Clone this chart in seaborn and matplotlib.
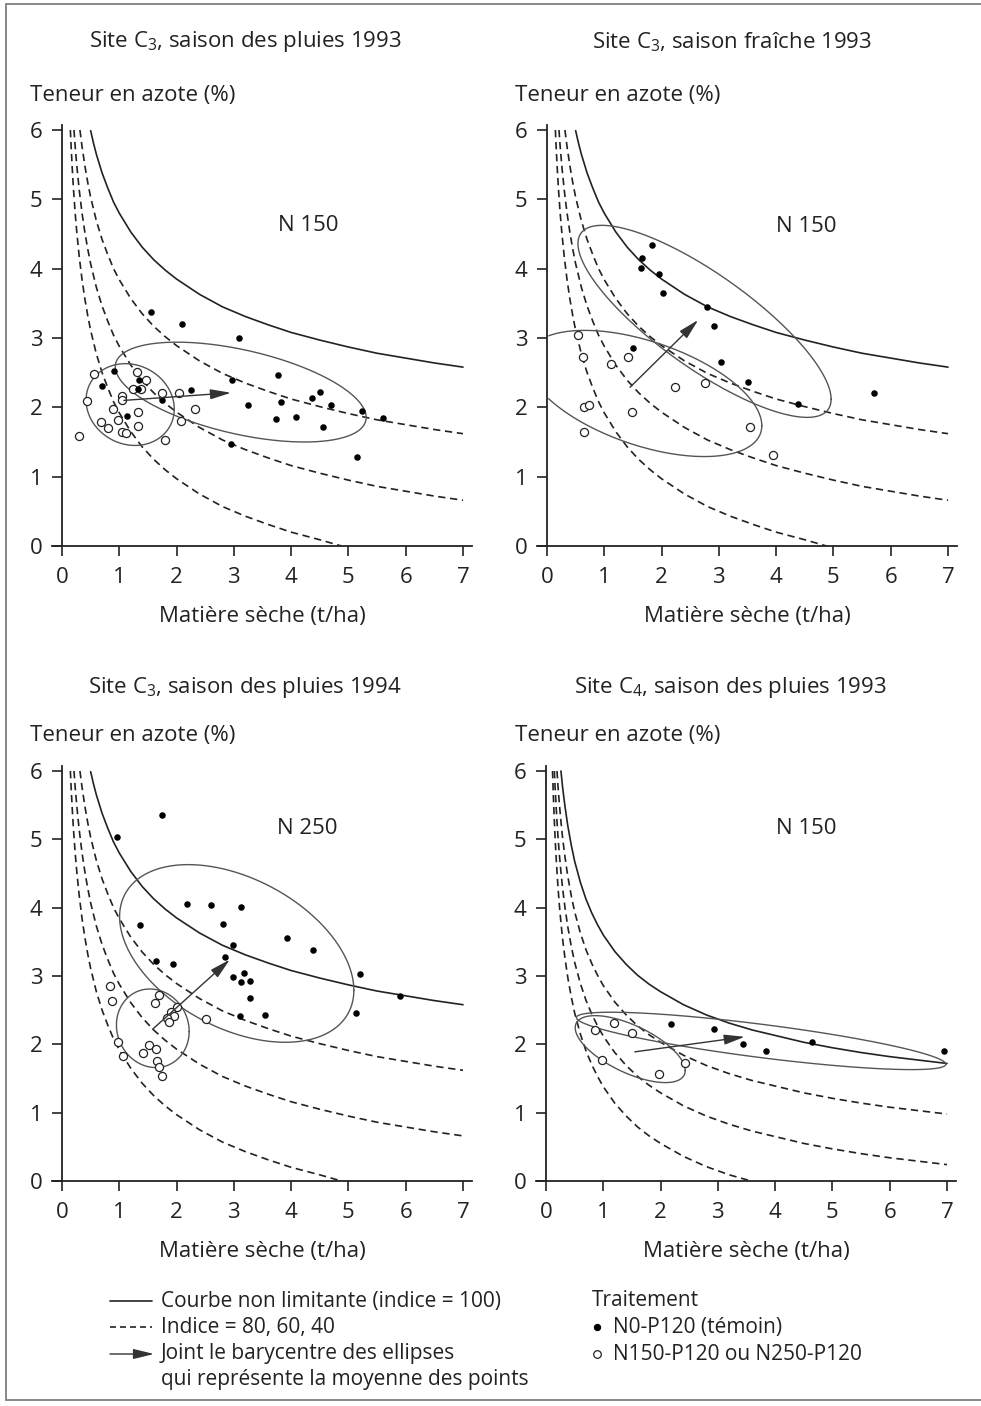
import matplotlib
matplotlib.use("Agg")
import matplotlib.pyplot as plt
import numpy as np
import pandas as pd
import seaborn as sns

# ---- data ----
# dilution curves, site C3 (panels 1-3)
c3_solid_x = [0.50, 0.55, 0.60, 0.70, 0.80, 0.90, 1.0, 1.2, 1.4, 1.6, 1.8, 2.0, 2.4, 2.8, 3.2, 3.6, 4.0, 4.5, 5.0, 5.5, 6.0, 6.5, 7.0]
c3_solid_y = [5.99, 5.81, 5.65, 5.38, 5.16, 4.96, 4.80, 4.53, 4.31, 4.13, 3.98, 3.85, 3.63, 3.45, 3.31, 3.19, 3.08, 2.97, 2.87, 2.78, 2.71, 2.64, 2.58]
c3_i80_x = [0.313, 0.35, 0.40, 0.45, 0.50, 0.60, 0.70, 0.80, 0.90, 1.0, 1.2, 1.4, 1.6, 1.8, 2.0, 2.4, 2.8, 3.2, 3.6, 4.0, 4.5, 5.0, 5.5, 6.0, 6.5, 7.0]
c3_i80_y = [6.00, 5.76, 5.48, 5.24, 5.03, 4.69, 4.42, 4.20, 4.00, 3.84, 3.57, 3.35, 3.17, 3.02, 2.89, 2.67, 2.49, 2.35, 2.23, 2.12, 2.01, 1.91, 1.82, 1.75, 1.68, 1.62]
c3_i60_x = [0.209, 0.23, 0.26, 0.30, 0.35, 0.40, 0.45, 0.50, 0.6, 0.7, 0.8, 0.9, 1.0, 1.2, 1.4, 1.6, 1.8, 2.0, 2.4, 2.8, 3.2, 3.6, 4.0, 4.5, 5.0, 5.5, 6.0, 6.5, 7.0]
c3_i60_y = [6.00, 5.76, 5.47, 5.14, 4.80, 4.52, 4.28, 4.07, 3.73, 3.46, 3.24, 3.04, 2.88, 2.61, 2.39, 2.21, 2.06, 1.93, 1.71, 1.53, 1.39, 1.27, 1.16, 1.05, 0.95, 0.86, 0.79, 0.72, 0.66]
c3_i40_x = [0.146, 0.16, 0.18, 0.20, 0.23, 0.26, 0.30, 0.35, 0.40, 0.45, 0.50, 0.6, 0.7, 0.8, 0.9, 1.0, 1.2, 1.4, 1.6, 1.8, 2.0, 2.4, 2.8, 3.2, 3.6, 4.0, 4.5, 4.88]
c3_i40_y = [6.00, 5.75, 5.43, 5.15, 4.80, 4.51, 4.18, 3.84, 3.56, 3.32, 3.11, 2.77, 2.50, 2.28, 2.08, 1.92, 1.65, 1.43, 1.25, 1.10, 0.97, 0.75, 0.57, 0.43, 0.31, 0.20, 0.09, 0.0]

# dilution curves, site C4 (panel 4)
c4_solid_x = [0.261, 0.29, 0.33, 0.38, 0.44, 0.50, 0.6, 0.7, 0.8, 0.9, 1.0, 1.2, 1.4, 1.6, 1.8, 2.0, 2.4, 2.8, 3.2, 3.6, 4.0, 4.5, 5.0, 5.5, 6.0, 6.5, 7.0]
c4_solid_y = [6.00, 5.76, 5.49, 5.20, 4.92, 4.68, 4.37, 4.12, 3.92, 3.75, 3.60, 3.36, 3.17, 3.01, 2.88, 2.77, 2.58, 2.43, 2.31, 2.21, 2.13, 2.03, 1.95, 1.88, 1.82, 1.77, 1.72]
c4_i80_x = [0.192, 0.21, 0.235, 0.261, 0.29, 0.33, 0.38, 0.44, 0.50, 0.6, 0.7, 0.8, 0.9, 1.0, 1.2, 1.4, 1.6, 1.8, 2.0, 2.4, 2.8, 3.2, 3.6, 4.0, 4.5, 5.0, 5.5, 6.0, 6.5, 7.0]
c4_i80_y = [6.00, 5.77, 5.50, 5.26, 5.02, 4.75, 4.46, 4.18, 3.94, 3.63, 3.38, 3.18, 3.01, 2.86, 2.62, 2.43, 2.27, 2.14, 2.03, 1.84, 1.69, 1.57, 1.47, 1.39, 1.29, 1.21, 1.14, 1.08, 1.03, 0.98]
c4_i60_x = [0.146, 0.16, 0.18, 0.21, 0.235, 0.261, 0.29, 0.33, 0.38, 0.44, 0.50, 0.6, 0.7, 0.8, 0.9, 1.0, 1.2, 1.4, 1.6, 1.8, 2.0, 2.4, 2.8, 3.2, 3.6, 4.0, 4.5, 5.0, 5.5, 6.0, 6.5, 7.0]
c4_i60_y = [6.00, 5.74, 5.43, 5.03, 4.76, 4.52, 4.28, 4.01, 3.72, 3.44, 3.20, 2.89, 2.64, 2.44, 2.27, 2.12, 1.88, 1.69, 1.53, 1.40, 1.29, 1.10, 0.95, 0.83, 0.73, 0.65, 0.55, 0.47, 0.40, 0.34, 0.29, 0.24]
c4_i40_x = [0.114, 0.125, 0.14, 0.16, 0.18, 0.21, 0.235, 0.261, 0.29, 0.33, 0.38, 0.44, 0.50, 0.6, 0.7, 0.8, 0.9, 1.0, 1.2, 1.4, 1.6, 1.8, 2.0, 2.4, 2.8, 3.2, 3.58]
c4_i40_y = [6.00, 5.71, 5.38, 5.00, 4.69, 4.29, 4.02, 3.78, 3.54, 3.27, 2.98, 2.70, 2.46, 2.15, 1.90, 1.70, 1.53, 1.38, 1.14, 0.95, 0.79, 0.66, 0.55, 0.36, 0.21, 0.09, 0.0]

# panel 1 : site C3, saison des pluies 1993
p1_temoin_x = [1.55, 2.09, 3.09, 0.91, 0.70, 1.35, 1.32, 1.13, 1.74, 2.25, 2.96, 3.77, 3.24, 3.82, 3.73, 4.08, 4.36, 4.50, 4.70, 4.56, 5.23, 5.61, 2.95, 5.15]
p1_temoin_y = [3.38, 3.20, 3.00, 2.53, 2.31, 2.40, 2.27, 1.88, 2.11, 2.25, 2.40, 2.47, 2.03, 2.07, 1.83, 1.86, 2.14, 2.22, 2.04, 1.71, 1.95, 1.84, 1.47, 1.29]
p1_ferti_x = [0.55, 0.44, 0.29, 1.05, 1.05, 0.89, 1.31, 1.47, 1.24, 1.38, 1.75, 2.05, 2.33, 2.08, 1.80, 1.33, 0.97, 0.68, 0.81, 1.32, 1.05, 1.11]
p1_ferti_y = [2.48, 2.09, 1.59, 2.17, 2.10, 1.98, 2.51, 2.40, 2.27, 2.26, 2.20, 2.21, 1.98, 1.80, 1.53, 1.93, 1.82, 1.79, 1.70, 1.73, 1.65, 1.63]

# panel 2 : site C3, saison fraiche 1993
p2_temoin_x = [1.66, 1.83, 1.64, 1.95, 2.02, 2.79, 2.91, 1.50, 3.04, 3.51, 4.39, 5.70]
p2_temoin_y = [4.16, 4.34, 4.01, 3.93, 3.65, 3.45, 3.17, 2.85, 2.65, 2.37, 2.05, 2.20]
p2_ferti_x = [0.54, 0.63, 1.12, 1.41, 0.65, 0.73, 0.64, 1.48, 2.24, 2.75, 3.55, 3.94]
p2_ferti_y = [3.04, 2.73, 2.63, 2.72, 2.00, 2.03, 1.65, 1.93, 2.29, 2.35, 1.72, 1.31]

# panel 3 : site C3, saison des pluies 1994
p3_temoin_x = [0.96, 1.75, 1.36, 2.19, 2.60, 3.13, 2.81, 2.99, 2.85, 1.64, 1.94, 3.93, 4.39, 2.98, 3.17, 3.13, 3.28, 3.28, 3.10, 3.54, 5.21, 5.14, 5.90]
p3_temoin_y = [5.03, 5.35, 3.75, 4.05, 4.04, 4.01, 3.76, 3.45, 3.28, 3.22, 3.17, 3.55, 3.38, 2.98, 3.05, 2.91, 2.92, 2.68, 2.42, 2.43, 3.03, 2.46, 2.71]
p3_ferti_x = [0.84, 0.88, 0.98, 1.06, 1.70, 1.63, 2.01, 1.90, 1.96, 1.83, 1.86, 2.51, 1.51, 1.42, 1.64, 1.65, 1.70, 1.75]
p3_ferti_y = [2.85, 2.63, 2.04, 1.83, 2.72, 2.60, 2.55, 2.48, 2.42, 2.39, 2.32, 2.37, 1.99, 1.88, 1.93, 1.76, 1.67, 1.53]

# panel 4 : site C4, saison des pluies 1993
p4_temoin_x = [2.18, 2.94, 3.44, 3.84, 4.64, 6.94]
p4_temoin_y = [2.30, 2.23, 2.01, 1.90, 2.03, 1.90]
p4_ferti_x = [0.85, 1.18, 1.50, 0.98, 1.98, 2.43]
p4_ferti_y = [2.21, 2.31, 2.16, 1.77, 1.56, 1.72]

# ellipses: centre x, centre y, half width, half height, xy term
p1_ellipses = [(3.12, 2.22, 2.19, 0.72, -0.80), (1.19, 2.04, 0.77, 0.59, -0.05)]
p2_ellipses = [(2.75, 3.24, 2.21, 1.385, -2.48), (1.70, 2.20, 2.05, 0.91, -0.95)]
p3_ellipses = [(3.05, 3.33, 2.045, 1.30, -1.10), (1.585, 2.235, 0.635, 0.575, -0.03)]
p4_ellipses = [(3.755, 2.05, 3.224, 0.42, -1.10), (1.47, 1.93, 0.96, 0.49, -0.30)]

# arrows joining the barycentres (start x, start y, end x, end y)
p1_arrow = (1.08, 2.10, 2.95, 2.21)
p2_arrow = (1.45, 2.29, 2.64, 3.26)
p3_arrow = (1.58, 2.22, 2.93, 3.24)
p4_arrow = (1.55, 1.89, 3.47, 2.11)

titles = ["Site C$_3$, saison des pluies 1993", "Site C$_3$, saison fraîche 1993",
          "Site C$_3$, saison des pluies 1994", "Site C$_4$, saison des pluies 1993"]
dose_labels = ["N 150", "N 150", "N 250", "N 150"]

# ---- style ----
sns.set_theme(style="white")
plt.rcParams["font.family"] = ["Liberation Sans Narrow", "Open Sans", "DejaVu Sans"]
plt.rcParams["mathtext.default"] = "regular"
INK = "#222222"
GREY = "#555555"

W, H = 981, 1406
fig = plt.figure(figsize=(W / 100, H / 100), dpi=100)

c3_curves = [(c3_solid_x, c3_solid_y), (c3_i80_x, c3_i80_y), (c3_i60_x, c3_i60_y), (c3_i40_x, c3_i40_y)]
c4_curves = [(c4_solid_x, c4_solid_y), (c4_i80_x, c4_i80_y), (c4_i60_x, c4_i60_y), (c4_i40_x, c4_i40_y)]

panels = [
    dict(x0=62, x7=463, y0=546, y6=130, curves=c3_curves, tx=p1_temoin_x, ty=p1_temoin_y,
         fx=p1_ferti_x, fy=p1_ferti_y, ell=p1_ellipses, arrow=p1_arrow, dose=(4.30, 4.62)),
    dict(x0=547, x7=948, y0=546, y6=130, curves=c3_curves, tx=p2_temoin_x, ty=p2_temoin_y,
         fx=p2_ferti_x, fy=p2_ferti_y, ell=p2_ellipses, arrow=p2_arrow, dose=(4.52, 4.61)),
    dict(x0=62, x7=463, y0=1181, y6=771, curves=c3_curves, tx=p3_temoin_x, ty=p3_temoin_y,
         fx=p3_ferti_x, fy=p3_ferti_y, ell=p3_ellipses, arrow=p3_arrow, dose=(4.28, 5.16)),
    dict(x0=546, x7=947, y0=1181, y6=771, curves=c4_curves, tx=p4_temoin_x, ty=p4_temoin_y,
         fx=p4_ferti_x, fy=p4_ferti_y, ell=p4_ellipses, arrow=p4_arrow, dose=(4.54, 5.16)),
]
title_pos = [(245, 42), (732, 42), (245, 688), (730, 688)]
ylab_pos = [(30, 95), (515, 95), (30, 735), (515, 735)]

XMIN, XMAX, YTOP = -0.18, 7.16, 6.07
ARROW = "-|>,head_length=0.9,head_width=0.22"


def ellipse_outline(cx, cy, hx, hy, mxy, n=240):
    # outline of the ellipse with the given spread matrix, cut at the y axis
    L = np.linalg.cholesky(np.array([[hx ** 2, mxy], [mxy, hy ** 2]]))
    t = np.linspace(0, 2 * np.pi, n)
    pts = L @ np.vstack([np.cos(t), np.sin(t)])
    ex, ey = cx + pts[0], cy + pts[1]
    ey = np.where(ex < 0, np.nan, ey)
    return ex, ey


for i, p in enumerate(panels):
    u = (p["x7"] - p["x0"]) / 7
    v = (p["y0"] - p["y6"]) / 6
    left = p["x0"] + XMIN * u
    right = p["x0"] + XMAX * u
    top = p["y0"] - YTOP * v
    ax = fig.add_axes([left / W, 1 - p["y0"] / H, (right - left) / W, (p["y0"] - top) / H])
    ax.set_xlim(XMIN, XMAX)
    ax.set_ylim(0, YTOP)
    ax.patch.set_alpha(0)

    for k, (cx, cy) in enumerate(p["curves"]):
        ls = "-" if k == 0 else (0, (4.4, 2.8))
        ax.plot(cx, cy, color=INK, lw=1.2, ls=ls, zorder=2)

    for e in p["ell"]:
        ex, ey = ellipse_outline(*e)
        ax.plot(ex, ey, color=GREY, lw=1.0, zorder=3)

    sx, sy, exx, eyy = p["arrow"]
    ax.annotate("", xy=(exx, eyy), xytext=(sx, sy),
                arrowprops=dict(arrowstyle=ARROW, color="#333333", lw=1.0,
                                shrinkA=0, shrinkB=0, mutation_scale=14), zorder=5)

    df_t = pd.DataFrame({"ms": p["tx"], "n": p["ty"]})
    df_f = pd.DataFrame({"ms": p["fx"], "n": p["fy"]})
    sns.scatterplot(data=df_f, x="ms", y="n", ax=ax, s=34, zorder=4, legend=False)
    ax.collections[-1].set_facecolor("white")
    ax.collections[-1].set_edgecolor(INK)
    ax.collections[-1].set_linewidth(0.9)
    sns.scatterplot(data=df_t, x="ms", y="n", ax=ax, s=22, zorder=4, legend=False)
    ax.collections[-1].set_facecolor("black")
    ax.collections[-1].set_edgecolor("black")
    ax.collections[-1].set_linewidth(0)

    ax.text(p["dose"][0], p["dose"][1], dose_labels[i], ha="center", va="center",
            fontsize=16, color=INK)

    ax.set_xlabel("")
    ax.set_ylabel("")
    for s in ["top", "right"]:
        ax.spines[s].set_visible(False)
    ax.spines["left"].set_position(("data", 0))
    for s in ["left", "bottom"]:
        ax.spines[s].set_color(INK)
        ax.spines[s].set_linewidth(1.3)
    ax.set_xticks(range(0, 8))
    ax.set_yticks(range(0, 7))
    ax.tick_params(direction="out", length=7, width=1.2, color=INK, labelcolor=INK,
                   labelsize=16, left=True, bottom=True)
    ax.tick_params(axis="x", pad=8)
    ax.tick_params(axis="y", pad=7)

    fig.text(title_pos[i][0] / W, 1 - title_pos[i][1] / H, titles[i], ha="center", va="center",
             fontsize=16, color=INK)
    fig.text(ylab_pos[i][0] / W, 1 - ylab_pos[i][1] / H, "Teneur en azote (%)", ha="left",
             va="center", fontsize=16, color=INK)
    xl_y = p["y0"] + 70
    fig.text((p["x0"] + 3.5 * u) / W, 1 - xl_y / H, "Matière sèche (t/ha)", ha="center",
             va="center", fontsize=16, color=INK)

# ---- legend and frame, in pixel coordinates ----
lg = fig.add_axes([0, 0, 1, 1], zorder=-1)
lg.set_xlim(0, W)
lg.set_ylim(H, 0)
lg.axis("off")
lg.plot([6, 6], [4, 1400], color="#888888", lw=1.4)
lg.plot([6, W], [4, 4], color="#888888", lw=1.4)
lg.plot([6, W], [1400, 1400], color="#888888", lw=1.4)

lg.plot([110, 152], [1301, 1301], color=INK, lw=1.2)
lg.plot([110, 152], [1327, 1327], color=INK, lw=1.2, ls=(0, (3.6, 2.4)))
lg.annotate("", xy=(154, 1354), xytext=(110, 1354),
            arrowprops=dict(arrowstyle=ARROW, color="#333333", lw=1.0,
                            shrinkA=0, shrinkB=0, mutation_scale=14))
legend_lines = ["Courbe non limitante (indice = 100)", "Indice = 80, 60, 40",
                "Joint le barycentre des ellipses", "qui représente la moyenne des points"]
for k, txt in enumerate(legend_lines):
    lg.text(161, [1301, 1327, 1354, 1380][k], txt, ha="left", va="center", fontsize=15, color=INK)

lg.text(592, 1300, "Traitement", ha="left", va="center", fontsize=15, color=INK)
lg.scatter([597], [1327], s=28, color="black", linewidths=0)
lg.scatter([597], [1354], s=30, facecolor="white", edgecolor=INK, linewidths=0.9)
lg.text(613, 1327, "N0-P120 (témoin)", ha="left", va="center", fontsize=15, color=INK)
lg.text(613, 1354, "N150-P120 ou N250-P120", ha="left", va="center", fontsize=15, color=INK)

fig.savefig("out.png", dpi=100, facecolor="white")
